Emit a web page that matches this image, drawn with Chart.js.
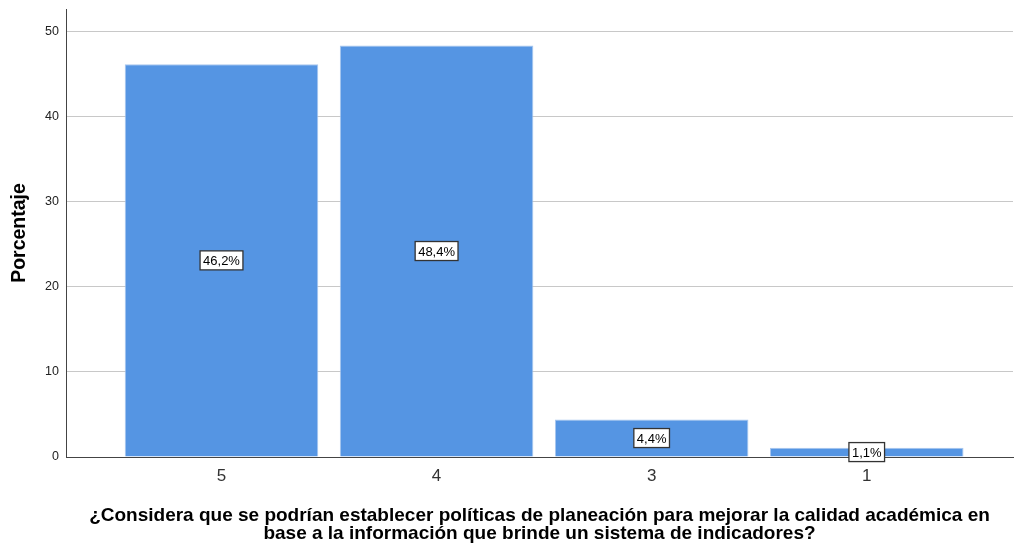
<!DOCTYPE html>
<html>
<head>
<meta charset="utf-8">
<script src="https://cdn.jsdelivr.net/npm/chart.js@4/dist/chart.umd.min.js"></script>
<style>
  html, body { margin: 0; padding: 0; background: #fff; }
  #wrap { width: 1014px; height: 548px; }
</style>
</head>
<body>
<div id="wrap"><canvas id="bars"></canvas></div>
<script>
// answer categories and their share of responses
var categories = ["5", "4", "3", "1"];
var percentages = [46.2, 48.4, 4.4, 1.1];
var yTicks = [0, 10, 20, 30, 40, 50];

var xTitle = [
  "¿Considera que se podrían establecer políticas de planeación para mejorar la calidad académica en",
  "base a la información que brinde un sistema de indicadores?"
];

var fontFamily = "'Liberation Sans', Arial, sans-serif";

// boxed percentage label in the middle of every bar
var barLabels = {
  id: "barLabels",
  afterDatasetsDraw: function(chart) {
    var ctx = chart.ctx;
    var meta = chart.getDatasetMeta(0);
    ctx.save();
    ctx.font = "13px " + fontFamily;
    ctx.textAlign = "center";
    ctx.textBaseline = "middle";
    meta.data.forEach(function(bar, i) {
      var text = percentages[i].toFixed(1).replace(".", ",") + "%";
      var cx = bar.x;
      var cy = (bar.y + bar.base) / 2;
      var w = ctx.measureText(text).width + 6;
      var h = 19;
      ctx.fillStyle = "#ffffff";
      ctx.fillRect(cx - w / 2, cy - h / 2, w, h);
      ctx.strokeStyle = "#333333";
      ctx.lineWidth = 1.3;
      ctx.strokeRect(cx - w / 2, cy - h / 2, w, h);
      ctx.fillStyle = "#000000";
      ctx.fillText(text, cx, cy + 1);
    });
    ctx.restore();
  }
};

var points = percentages.map(function(v, i) { return { x: i, y: v }; });

new Chart(document.getElementById("bars"), {
  type: "bar",
  data: {
    datasets: [{
      data: points,
      backgroundColor: "#5595e3",
      borderColor: "#a8c6ee",
      borderWidth: 1,
      barPercentage: 0.9,
      categoryPercentage: 1
    }]
  },
  options: {
    responsive: true,
    maintainAspectRatio: false,
    animation: false,
    layout: { padding: { top: 9, right: 1, left: 0, bottom: 0 } },
    plugins: { legend: { display: false }, tooltip: { enabled: false } },
    scales: {
      x: {
        type: "linear",
        offset: false,
        min: -0.723,
        max: 3.68,
        afterBuildTicks: function(scale) {
          scale.ticks = categories.map(function(c, i) { return { value: i }; });
        },
        afterFit: function(scale) {
          scale.height = 91;
          scale.paddingLeft = 0;
          scale.paddingRight = 0;
        },
        grid: { display: false, drawTicks: false },
        border: { display: true, color: "#444444", width: 1 },
        ticks: {
          padding: 9,
          color: "#333333",
          font: { size: 17, family: fontFamily },
          callback: function(v) { return categories[v]; }
        },
        title: {
          display: true,
          text: xTitle,
          color: "#000000",
          font: { size: 19, weight: "bold", family: fontFamily, lineHeight: "18px" },
          padding: { top: 0, bottom: 5 }
        }
      },
      y: {
        min: 0,
        max: 52.7,
        afterBuildTicks: function(scale) {
          scale.ticks = yTicks.map(function(v) { return { value: v }; });
        },
        afterFit: function(scale) {
          scale.width = 66;
          scale.paddingTop = 0;
          scale.paddingBottom = 0;
        },
        grid: { color: "#c8c8c8", drawTicks: false },
        border: { display: true, color: "#444444", width: 1 },
        ticks: {
          padding: 7,
          color: "#222222",
          font: { size: 12.5, family: fontFamily }
        },
        title: {
          display: true,
          text: "Porcentaje",
          color: "#000000",
          font: { size: 19.5, weight: "bold", family: fontFamily, lineHeight: "18px" },
          padding: { top: 11, bottom: 0 }
        }
      }
    }
  },
  plugins: [barLabels]
});
</script>
</body>
</html>
